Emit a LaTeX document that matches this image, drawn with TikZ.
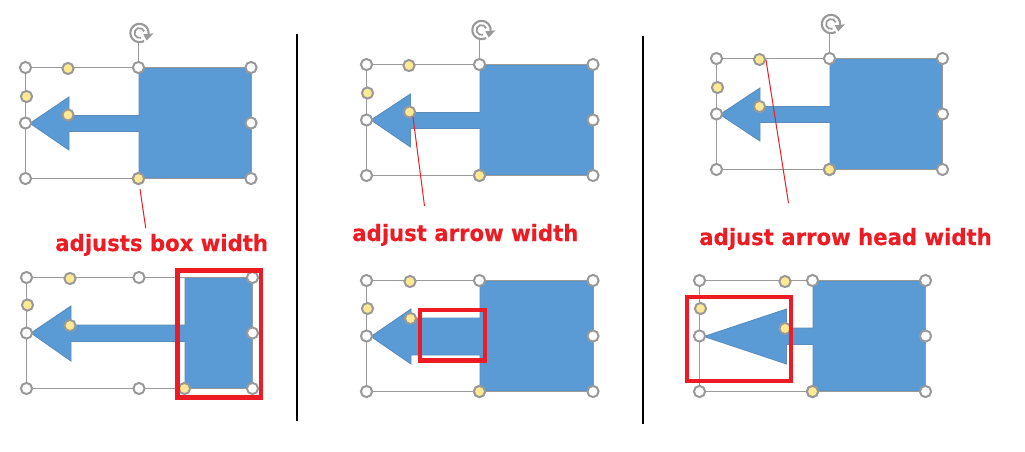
\documentclass[tikz,border=0pt]{standalone}
\usepackage{fontspec}
\setmainfont{DejaVu Sans}[BoldFeatures={FakeStretch=0.947,FakeBold=0.3}]
\usetikzlibrary{calc}
\definecolor{fillblue}{HTML}{5B9BD5}
\definecolor{edgeblue}{HTML}{5A8DBB}
\definecolor{handlegrey}{HTML}{999999}
\definecolor{handleyellow}{HTML}{FFE993}
\definecolor{markred}{HTML}{ED1C24}
\tikzset{
  x=0.75pt,y=-0.75pt,
  handle/.style={circle,draw=handlegrey,line width=1.5pt,fill=#1,minimum size=8.4pt,inner sep=0pt,outer sep=0pt},
  handle/.default=white,
  frameline/.style={draw=handlegrey,line width=0.75pt},
  arrowshape/.style={fill=fillblue,draw=edgeblue,line width=0.7pt,line join=miter},
  calloutline/.style={draw=markred,line width=0.75pt},
  markbox/.style={draw=markred,line width=3.4pt},
  divider/.style={draw=black,line width=0.8pt},
  caption/.style={text=markred,font=\bfseries\fontsize{16.8}{18}\selectfont,anchor=base west,inner sep=0pt},
  rothandle/.style={circle,minimum size=15pt,inner sep=0pt,outer sep=0pt}
}
% frame with white handles: name, left, top, right, bottom, mid x
\newcommand{\framehandles}[6]{
  \node[handle] (#1tl) at (#2,#3) {};
  \node[handle] (#1tm) at (#6,#3) {};
  \node[handle] (#1tr) at (#4,#3) {};
  \node[handle] (#1ml) at (#2,{(#3+#5)/2}) {};
  \node[handle] (#1mr) at (#4,{(#3+#5)/2}) {};
  \node[handle] (#1bl) at (#2,#5) {};
  \node[handle] (#1bm) at (#6,#5) {};
  \node[handle] (#1br) at (#4,#5) {};
  \draw[frameline] (#1tl)--(#1tm);
  \draw[frameline] (#1tm)--(#1tr);
  \draw[frameline] (#1tr)--(#1mr);
  \draw[frameline] (#1mr)--(#1br);
  \draw[frameline] (#1br)--(#1bm);
  \draw[frameline] (#1bm)--(#1bl);
  \draw[frameline] (#1bl)--(#1ml);
  \draw[frameline] (#1ml)--(#1tl);
}
% arrow callout: tip x, mid y, head x, head top, head bottom, shaft top, shaft bottom, box left, box path
\newcommand{\calloutshape}[9]{
  \path[arrowshape] (#1,#2)--(#3,#4)--(#3,#6)--(#8,#6)--#9--(#8,#7)--(#3,#7)--(#3,#5)--cycle;
}
% rotation handle: name, x, y, top-middle handle it hangs from
\newcommand{\rotsymbol}[4]{
  \node[rothandle] (#1) at (#2,#3) {};
  \begin{scope}[shift={(#1)},y=0.75pt]
    \draw[handlegrey,line width=1.6pt] (-5:9.2) arc[start angle=-5,end angle=300,radius=9.2];
    \draw[handlegrey,line width=1.3pt] (20:5) arc[start angle=20,end angle=290,radius=5];
    \fill[handlegrey] (3.8,-1.3)--(14,-0.3)--(7.2,-7.5)--cycle;
  \end{scope}
  \draw[frameline] (#1.south -| #4)--(#4);
}
\begin{document}
\begin{tikzpicture}
\useasboundingbox (0,0) rectangle (1025,451);
% dividers
\coordinate (d1a) at (297,34); \coordinate (d1b) at (297,421);
\coordinate (d2a) at (643,36); \coordinate (d2b) at (643,424);
\draw[divider] (d1a)--(d1b);
\draw[divider] (d2a)--(d2b);

% panel A top
\calloutshape{30}{123.3}{69}{97}{150}{115.5}{131.5}{139}{(139,68)--(251,68)--(251,178)--(139,178)}
\framehandles{a}{25.5}{67.5}{251}{178.5}{138.5}
\rotsymbol{ar}{139.5}{33}{atm}
\node[handle=handleyellow] (ay1) at (68,68.5) {};
\node[handle=handleyellow] (ay2) at (26.5,96.5) {};
\node[handle=handleyellow] (ay3) at (68,115) {};
\node[handle=handleyellow] (ay4) at (138.5,178.5) {};
\coordinate (ac1) at (140,189); \coordinate (ac2) at (145.7,228);
\draw[calloutline] (ac1)--(ac2);
\node[caption] (at) at (55,251) {adjusts box width};

% panel A bottom
\calloutshape{31}{333}{71}{306}{361}{325}{341.5}{185}{(185,278)--(252.5,278)--(252.5,388)--(185,388)}
\framehandles{b}{26.5}{277.5}{252.5}{388.5}{139}
\node[handle=handleyellow] (by1) at (70,278.5) {};
\node[handle=handleyellow] (by2) at (27.5,305) {};
\node[handle=handleyellow] (by3) at (70,325.5) {};
\node[handle=handleyellow] (by4) at (184.5,388.5) {};
\draw[markbox] (177.5,270.5) rectangle (261,397.5);

% panel B top
\calloutshape{371}{120}{410.5}{94}{147}{112.5}{128.5}{480}{(480,65)--(593,65)--(593,175)--(480,175)}
\framehandles{c}{366.5}{64.5}{593}{175.5}{479.5}
\rotsymbol{cr}{481.5}{30}{ctm}
\node[handle=handleyellow] (cy1) at (409,65.5) {};
\node[handle=handleyellow] (cy2) at (367.5,93) {};
\node[handle=handleyellow] (cy3) at (409.5,112) {};
\node[handle=handleyellow] (cy4) at (479.5,175.5) {};
\coordinate (cc1) at (413,117); \coordinate (cc2) at (424.5,206);
\draw[calloutline] (cc1)--(cc2);
\node[caption] (ct) at (352,241) {adjust arrow width};

% panel B bottom
\calloutshape{371}{336.5}{411}{309}{364}{318}{355}{480}{(480,281)--(593,281)--(593,391)--(480,391)}
\framehandles{d}{366.5}{280.5}{593}{391.5}{479.5}
\node[handle=handleyellow] (dy1) at (410,281.5) {};
\node[handle=handleyellow] (dy2) at (367.5,308.5) {};
\node[handle=handleyellow] (dy3) at (410.5,318.5) {};
\node[handle=handleyellow] (dy4) at (479.5,391.5) {};
\draw[markbox] (420,310) rectangle (485,360.5);

% panel C top
\calloutshape{720}{114.5}{760}{88}{141}{106.5}{122.5}{830}{(830,59)--(942.5,59)--(942.5,169.5)--(830,169.5)}
\framehandles{e}{716.5}{58.5}{942.5}{169.5}{829.5}
\rotsymbol{er}{831}{24}{etm}
\node[handle=handleyellow] (ey1) at (759.5,59.5) {};
\node[handle=handleyellow] (ey2) at (717.5,87.5) {};
\node[handle=handleyellow] (ey3) at (759.5,106.5) {};
\node[handle=handleyellow] (ey4) at (829.5,169.5) {};
\coordinate (ec1) at (766,60); \coordinate (ec2) at (788.5,203);
\draw[calloutline] (ec1)--(ec2);
\node[caption] (et) at (699,245) {adjust arrow head width};

% panel C bottom
\calloutshape{704}{336.5}{786.5}{309}{364}{328}{344.5}{813}{(813,281)--(925.5,281)--(925.5,391)--(813,391)}
\framehandles{f}{699.5}{280.5}{925.5}{391.5}{812.5}
\node[handle=handleyellow] (fy1) at (785,281.5) {};
\node[handle=handleyellow] (fy2) at (700.5,308.5) {};
\node[handle=handleyellow] (fy3) at (785,328.5) {};
\node[handle=handleyellow] (fy4) at (812.5,391.5) {};
\draw[markbox] (687,297) rectangle (791,381);
\end{tikzpicture}
\end{document}
